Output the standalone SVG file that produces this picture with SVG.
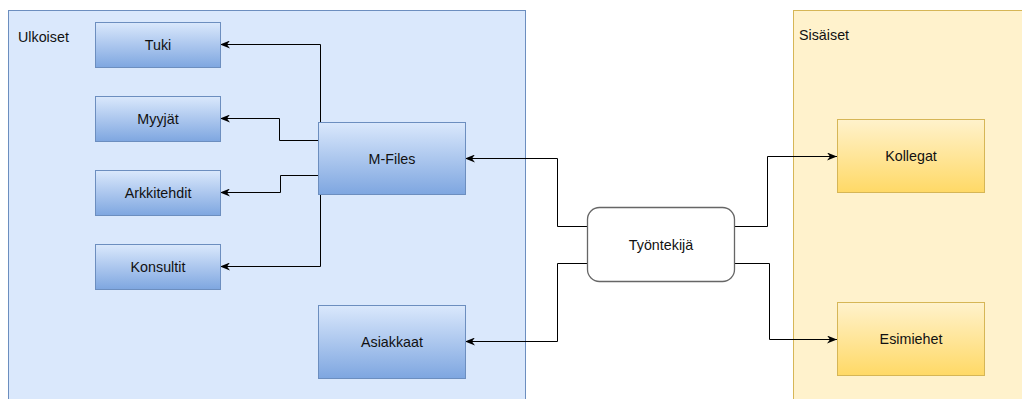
<svg xmlns="http://www.w3.org/2000/svg" width="1022" height="399" viewBox="0 0 1022 399">
<defs>
<linearGradient id="gBlue" x1="0" y1="0" x2="0" y2="1">
<stop offset="0" stop-color="#dae8fc"/>
<stop offset="1" stop-color="#7ea6e0"/>
</linearGradient>
<linearGradient id="gYel" x1="0" y1="0" x2="0" y2="1">
<stop offset="0" stop-color="#fff2cc"/>
<stop offset="1" stop-color="#ffd966"/>
</linearGradient>
<marker id="arr" viewBox="0 0 10 8" refX="10" refY="4" markerWidth="10" markerHeight="8" markerUnits="userSpaceOnUse" orient="auto">
<path d="M0,0 L10,4 L0,8 L3,4 Z" fill="#000"/>
</marker>
<style>
text{font-family:"Liberation Sans",Arial,sans-serif;font-size:14.3px;fill:#111}
.c{text-anchor:middle;dominant-baseline:central}
.bn{fill:url(#gBlue);stroke:#6c8ebf;stroke-width:1}
.yn{fill:url(#gYel);stroke:#d6b656;stroke-width:1}
.con{fill:none;stroke:#000;stroke-width:1}
.arr{marker-end:url(#arr)}
</style>
</defs>
<rect width="1022" height="399" fill="#fff"/>
<g id="ulkoiset">
<rect x="8.5" y="10.5" width="517" height="400" fill="#dae8fc" stroke="#6c8ebf"/>
<text x="18" y="42">Ulkoiset</text>
</g>
<g id="sisaiset">
<rect x="793.5" y="10.5" width="240" height="400" fill="#fff2cc" stroke="#d6b656"/>
<text x="799" y="40">Sisäiset</text>
</g>
<g id="connectors">
<path class="con arr" d="M320.5,122 V44.5 H220"/>
<path class="con arr" d="M318,140.5 H279.5 V118.5 H220"/>
<path class="con arr" d="M318,175.5 H280.5 V192.5 H220"/>
<path class="con arr" d="M320.5,194 V266.5 H220"/>
<path class="con arr" d="M587,226.5 H557.5 V158.5 H465"/>
<path class="con arr" d="M587,263.5 H557.5 V341.5 H465"/>
<path class="con arr" d="M734,226.5 H767.5 V156.5 H837"/>
<path class="con arr" d="M734,263.5 H769.5 V339.5 H837"/>
</g>
<g id="tuki"><rect class="bn" x="95.5" y="22.5" width="125" height="45"/><text class="c" x="158" y="45">Tuki</text></g>
<g id="myyjat"><rect class="bn" x="95.5" y="96.5" width="125" height="45"/><text class="c" x="158" y="119">Myyjät</text></g>
<g id="arkkitehdit"><rect class="bn" x="95.5" y="170.5" width="125" height="45"/><text class="c" x="158" y="193">Arkkitehdit</text></g>
<g id="konsultit"><rect class="bn" x="95.5" y="244.5" width="125" height="45"/><text class="c" x="158" y="267">Konsultit</text></g>
<g id="mfiles"><rect class="bn" x="318.5" y="122.5" width="147" height="72"/><text class="c" x="392" y="158.5">M-Files</text></g>
<g id="asiakkaat"><rect class="bn" x="318.5" y="305.5" width="147" height="73"/><text class="c" x="392" y="342">Asiakkaat</text></g>
<g id="tyontekija"><rect x="587.5" y="207.5" width="147" height="74" rx="12" ry="12" fill="#fff" stroke="#666" stroke-width="1.3"/><text class="c" x="661" y="245">Työntekijä</text></g>
<g id="kollegat"><rect class="yn" x="837.5" y="119.5" width="147" height="73"/><text class="c" x="911" y="156">Kollegat</text></g>
<g id="esimiehet"><rect class="yn" x="837.5" y="302.5" width="147" height="73"/><text class="c" x="911" y="339">Esimiehet</text></g>
</svg>
